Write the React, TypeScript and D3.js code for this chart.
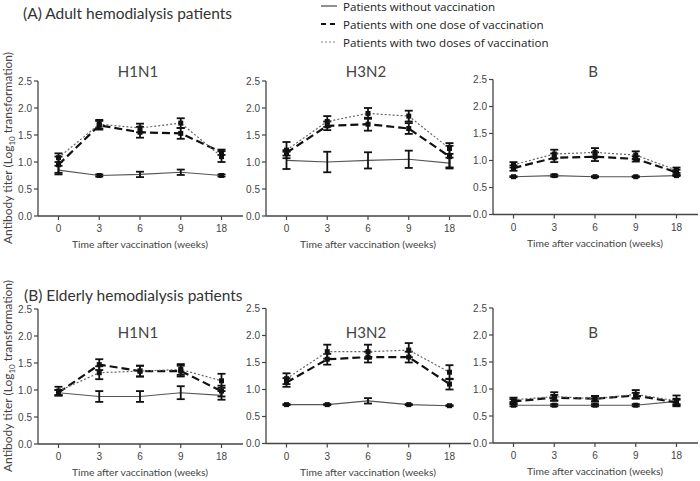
import React from "react";
import * as d3 from "d3";

const weeks = ["0", "3", "6", "9", "18"];
const yTicks = [0, 0.5, 1.0, 1.5, 2.0, 2.5];
const strains = ["H1N1", "H3N2", "B"];
const seriesNames = [
  "Patients without vaccination",
  "Patients with one dose of vaccination",
  "Patients with two doses of vaccination",
];

// Adult (A)
const adultNone = [
  [0.85, 0.75, 0.77, 0.81, 0.75],
  [1.03, 1.0, 1.03, 1.05, 0.98],
  [0.7, 0.72, 0.7, 0.7, 0.72],
];
const adultNoneErr = [
  [0.08, 0.02, 0.05, 0.05, 0.02],
  [0.16, 0.19, 0.15, 0.16, 0.1],
  [0.01, 0.02, 0.01, 0.01, 0.01],
];
const adultOne = [
  [0.95, 1.68, 1.55, 1.53, 1.18],
  [1.17, 1.67, 1.7, 1.62, 1.1],
  [0.86, 1.05, 1.07, 1.03, 0.78],
];
const adultOneErr = [
  [0.15, 0.08, 0.1, 0.1, 0.05],
  [0.05, 0.08, 0.12, 0.1, 0.2],
  [0.05, 0.08, 0.08, 0.05, 0.05],
];
const adultTwo = [
  [1.08, 1.7, 1.63, 1.72, 1.1],
  [1.22, 1.75, 1.9, 1.85, 1.25],
  [0.92, 1.12, 1.15, 1.1, 0.82],
];
const adultTwoErr = [
  [0.08, 0.08, 0.08, 0.09, 0.1],
  [0.15, 0.1, 0.1, 0.1, 0.1],
  [0.05, 0.08, 0.08, 0.07, 0.05],
];

// Elderly (B)
const elderNone = [
  [0.95, 0.88, 0.88, 0.95, 0.9],
  [0.72, 0.72, 0.79, 0.72, 0.7],
  [0.7, 0.7, 0.7, 0.7, 0.77],
];
const elderNoneErr = [
  [0.05, 0.1, 0.1, 0.12, 0.08],
  [0.01, 0.01, 0.05, 0.01, 0.01],
  [0.02, 0.02, 0.02, 0.02, 0.05],
];
const elderOne = [
  [0.95, 1.47, 1.35, 1.35, 0.98],
  [1.13, 1.56, 1.6, 1.6, 1.1],
  [0.77, 0.84, 0.82, 0.88, 0.75],
];
const elderOneErr = [
  [0.05, 0.1, 0.1, 0.1, 0.1],
  [0.08, 0.1, 0.1, 0.1, 0.1],
  [0.04, 0.05, 0.05, 0.05, 0.05],
];
const elderTwo = [
  [0.98, 1.32, 1.35, 1.38, 1.17],
  [1.2, 1.7, 1.7, 1.73, 1.32],
  [0.8, 0.86, 0.82, 0.9, 0.78],
];
const elderTwoErr = [
  [0.08, 0.12, 0.1, 0.1, 0.13],
  [0.1, 0.13, 0.13, 0.13, 0.13],
  [0.04, 0.08, 0.05, 0.08, 0.1],
];

const LABEL_FONT = "Lato, 'Open Sans', sans-serif";
const LEGEND_FONT = "'Open Sans', Lato, sans-serif";
const TICK_FONT = "'Liberation Sans', Arial, sans-serif";

const styles = [
  { stroke: "#555", width: 1.1, dash: "" },
  { stroke: "#111", width: 2.2, dash: "8,4" },
  { stroke: "#666", width: 1.2, dash: "2,2" },
];

type PanelProps = {
  x0: number;
  zero: number;
  title: string;
  titleY: number;
  series: number[][];
  errs: number[][];
};

function Panel({ x0, zero, title, titleY, series, errs }: PanelProps) {
  const x = d3.scalePoint<string>().domain(weeks).range([x0 + 20.5, x0 + 183.5]);
  const y = d3.scaleLinear().domain([0, 2.5]).range([zero, zero - 135]);
  const line = d3
    .line<number>()
    .x((_, i) => x(weeks[i]) as number)
    .y((d) => y(d));
  const axisColor = "#444";
  return (
    <g>
      <text x={x0 + 100} y={titleY} textAnchor="middle" fontFamily={LABEL_FONT} fontSize={15} fill="#444">
        {title}
      </text>
      <line x1={x0} x2={x0} y1={y(2.5)} y2={zero} stroke={axisColor} strokeWidth={1.3} />
      {yTicks.map((t) => (
        <g key={t}>
          <line x1={x0 - 4} x2={x0} y1={y(t)} y2={y(t)} stroke={axisColor} strokeWidth={1.2} />
          <text x={x0 - 6} y={y(t) + 3.5} textAnchor="end" fontFamily={TICK_FONT} fontSize={10} fill="#444">
            {t.toFixed(1)}
          </text>
        </g>
      ))}
      <line x1={x0} x2={x0 + 205} y1={zero} y2={zero} stroke={axisColor} strokeWidth={1.3} />
      {weeks.map((w) => (
        <g key={w}>
          <line x1={x(w)} x2={x(w)} y1={zero} y2={zero + 4} stroke={axisColor} strokeWidth={1.2} />
          <text x={x(w)} y={zero + 16} textAnchor="middle" fontFamily={TICK_FONT} fontSize={10} fill="#444">
            {w}
          </text>
        </g>
      ))}
      <text x={x0 + 102} y={zero + 32} textAnchor="middle" fontFamily={LABEL_FONT} fontSize={10.3} fill="#444">
        Time after vaccination (weeks)
      </text>
      {series.map((s, si) => (
        <g key={si}>
          <path
            d={line(s) || ""}
            fill="none"
            stroke={styles[si].stroke}
            strokeWidth={styles[si].width}
            strokeDasharray={styles[si].dash}
          />
          {s.map((v, i) => {
            const cx = x(weeks[i]) as number;
            const e = errs[si][i];
            return (
              <g key={i}>
                <line x1={cx} x2={cx} y1={y(v - e)} y2={y(v + e)} stroke="#111" strokeWidth={1.8} />
                <line x1={cx - 4} x2={cx + 4} y1={y(v - e)} y2={y(v - e)} stroke="#111" strokeWidth={1.8} />
                <line x1={cx - 4} x2={cx + 4} y1={y(v + e)} y2={y(v + e)} stroke="#111" strokeWidth={1.8} />
                {si > 0 || e < 0.03 ? (
                  <rect x={cx - 2.5} y={y(v) - 2.5} width={5} height={5} fill="#111" />
                ) : null}
              </g>
            );
          })}
        </g>
      ))}
    </g>
  );
}

export default function App() {
  const xs = [38, 266, 493];
  const topZero = [216, 216, 214.5];
  const botZero = [444, 443.5, 443];
  const groups = [
    { none: adultNone, noneE: adultNoneErr, one: adultOne, oneE: adultOneErr, two: adultTwo, twoE: adultTwoErr },
    { none: elderNone, noneE: elderNoneErr, one: elderOne, oneE: elderOneErr, two: elderTwo, twoE: elderTwoErr },
  ];
  return (
    <svg width={700} height={481} style={{ position: "absolute", left: 0, top: 0, background: "#fff" }}>
      <rect width={700} height={481} fill="#fff" />
      <text x={23} y={19} fontFamily={LABEL_FONT} fontSize={15.5} fill="#333">
        (A) Adult hemodialysis patients
      </text>
      <text x={24} y={301} fontFamily={LABEL_FONT} fontSize={15.5} fill="#333">
        (B) Elderly hemodialysis patients
      </text>
      {seriesNames.map((n, i) => (
        <g key={n}>
          <line
            x1={321}
            x2={337}
            y1={6 + i * 18}
            y2={6 + i * 18}
            stroke={i === 2 ? "#aaa" : styles[i].stroke}
            strokeWidth={i === 1 ? 2.2 : 1.3}
            strokeDasharray={i === 1 ? "5,4" : i === 2 ? "2,2" : ""}
          />
          <text x={343} y={11 + i * 18} fontFamily={LEGEND_FONT} fontSize={11.6} fill="#222">
            {n}
          </text>
        </g>
      ))}
      {[148, 376].map((cy) => (
        <text
          key={cy}
          transform={`translate(12,${cy}) rotate(-90)`}
          textAnchor="middle"
          fontFamily={LABEL_FONT}
          fontSize={12}
          fill="#444"
        >
          Antibody titer (Log
          <tspan fontSize={8} dy={3}>10</tspan>
          <tspan dy={-3}> transformation)</tspan>
        </text>
      ))}
      {groups.map((g, gi) =>
        strains.map((s, si) => (
          <Panel
            key={`${gi}-${si}`}
            x0={xs[si]}
            zero={gi === 0 ? topZero[si] : botZero[si]}
            title={s}
            titleY={gi === 0 ? 77 : 338}
            series={[g.none[si], g.one[si], g.two[si]]}
            errs={[g.noneE[si], g.oneE[si], g.twoE[si]]}
          />
        ))
      )}
    </svg>
  );
}
